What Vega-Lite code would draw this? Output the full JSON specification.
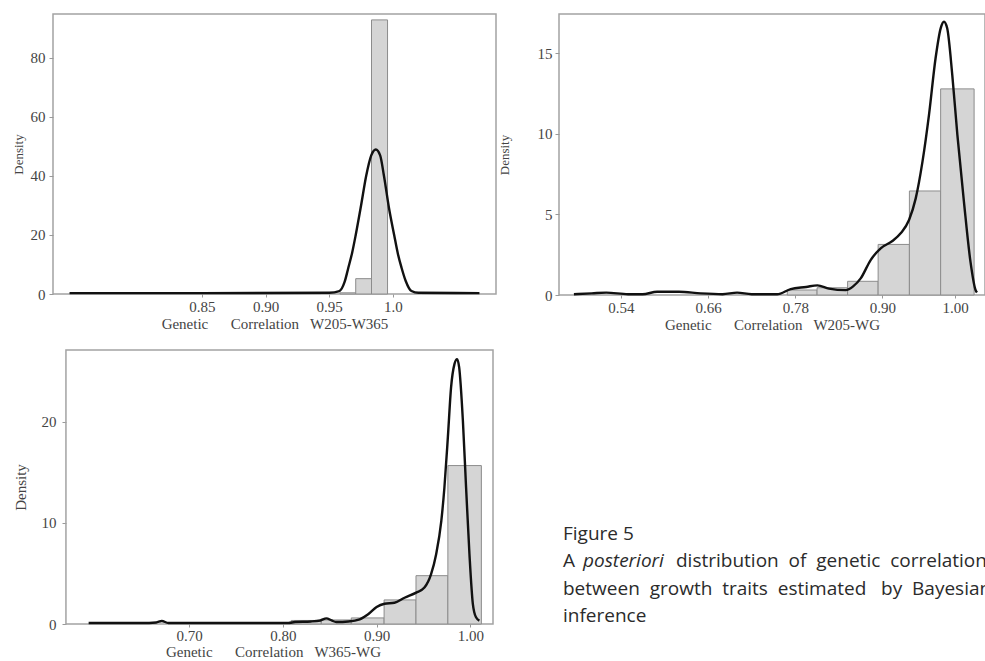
{
  "$schema": "https://vega.github.io/schema/vega-lite/v6.json",
  "padding": {"left": 11, "top": 13, "right": 0, "bottom": 0},
  "background": "white",
  "columns": 2,
  "align": "none",
  "bounds": "full",
  "spacing": {"row": 16, "column": 0},
  "config": {
    "font": "Liberation Serif",
    "view": {"stroke": "#a3a3a3", "strokeWidth": 1.5},
    "axis": {
      "domain": false, "grid": false, "tickColor": "#999999", "tickSize": 4,
      "labelFont": "Liberation Serif", "labelFontSize": 15, "labelColor": "#444444",
      "titleFont": "Liberation Serif", "titleFontWeight": "normal", "titleColor": "#444444"
    }
  },
  "datasets": {
    "h1": [
      {"x0": 0.9585, "x1": 0.9708, "d": 0.4},
      {"x0": 0.9708, "x1": 0.9832, "d": 5.2},
      {"x0": 0.9832, "x1": 0.9958, "d": 92.9}
    ],
    "c1": [
      {"r": 0.746, "d": 0.3}, {"r": 0.85, "d": 0.3}, {"r": 0.95, "d": 0.4}, {"r": 0.958, "d": 1.0},
      {"r": 0.962, "d": 4.0}, {"r": 0.965, "d": 8.9}, {"r": 0.968, "d": 14.0}, {"r": 0.9708, "d": 20.0},
      {"r": 0.975, "d": 30.0}, {"r": 0.979, "d": 40.0}, {"r": 0.983, "d": 47.0}, {"r": 0.9866, "d": 49.0},
      {"r": 0.990, "d": 47.0}, {"r": 0.993, "d": 40.0}, {"r": 0.997, "d": 29.0}, {"r": 1.001, "d": 20.0},
      {"r": 1.004, "d": 13.5}, {"r": 1.0068, "d": 8.9}, {"r": 1.010, "d": 4.5}, {"r": 1.0146, "d": 1.0},
      {"r": 1.02, "d": 0.4}, {"r": 1.068, "d": 0.3}
    ],
    "h2": [
      {"x0": 0.769, "x1": 0.810, "d": 0.31},
      {"x0": 0.810, "x1": 0.852, "d": 0.45},
      {"x0": 0.852, "x1": 0.894, "d": 0.85},
      {"x0": 0.894, "x1": 0.937, "d": 3.14},
      {"x0": 0.937, "x1": 0.980, "d": 6.46},
      {"x0": 0.980, "x1": 1.026, "d": 12.8}
    ],
    "c2": [
      {"r": 0.4755, "d": 0.05}, {"r": 0.50, "d": 0.1}, {"r": 0.52, "d": 0.15}, {"r": 0.55, "d": 0.05},
      {"r": 0.57, "d": 0.05}, {"r": 0.59, "d": 0.2}, {"r": 0.62, "d": 0.2}, {"r": 0.65, "d": 0.1},
      {"r": 0.68, "d": 0.05}, {"r": 0.70, "d": 0.15}, {"r": 0.72, "d": 0.05}, {"r": 0.755, "d": 0.05},
      {"r": 0.7737, "d": 0.37}, {"r": 0.795, "d": 0.5}, {"r": 0.8104, "d": 0.6}, {"r": 0.8264, "d": 0.4},
      {"r": 0.8494, "d": 0.3}, {"r": 0.860, "d": 0.55}, {"r": 0.870, "d": 1.03}, {"r": 0.8837, "d": 2.17},
      {"r": 0.8975, "d": 2.9}, {"r": 0.9136, "d": 3.35}, {"r": 0.925, "d": 3.83}, {"r": 0.9365, "d": 4.66},
      {"r": 0.9457, "d": 6.0}, {"r": 0.955, "d": 8.28}, {"r": 0.964, "d": 11.2}, {"r": 0.973, "d": 14.7},
      {"r": 0.980, "d": 16.56}, {"r": 0.9846, "d": 16.97}, {"r": 0.989, "d": 16.56}, {"r": 0.996, "d": 13.66},
      {"r": 1.003, "d": 9.94}, {"r": 1.012, "d": 5.8}, {"r": 1.021, "d": 2.07}, {"r": 1.028, "d": 0.31},
      {"r": 1.030, "d": 0.15}
    ],
    "h3": [
      {"x0": 0.809, "x1": 0.841, "d": 0.35},
      {"x0": 0.841, "x1": 0.873, "d": 0.4},
      {"x0": 0.873, "x1": 0.908, "d": 0.6},
      {"x0": 0.908, "x1": 0.942, "d": 2.38},
      {"x0": 0.942, "x1": 0.976, "d": 4.78},
      {"x0": 0.976, "x1": 1.0117, "d": 15.67}
    ],
    "c3": [
      {"r": 0.593, "d": 0.1}, {"r": 0.62, "d": 0.1}, {"r": 0.65, "d": 0.1}, {"r": 0.665, "d": 0.15},
      {"r": 0.671, "d": 0.3}, {"r": 0.678, "d": 0.1}, {"r": 0.72, "d": 0.1}, {"r": 0.76, "d": 0.1},
      {"r": 0.806, "d": 0.1}, {"r": 0.813, "d": 0.2}, {"r": 0.83, "d": 0.25}, {"r": 0.84, "d": 0.35},
      {"r": 0.8465, "d": 0.56}, {"r": 0.852, "d": 0.35}, {"r": 0.857, "d": 0.2}, {"r": 0.87, "d": 0.25},
      {"r": 0.882, "d": 0.46}, {"r": 0.891, "d": 0.96}, {"r": 0.90, "d": 1.68}, {"r": 0.9085, "d": 2.0},
      {"r": 0.919, "d": 2.1}, {"r": 0.9298, "d": 2.6}, {"r": 0.9422, "d": 3.1}, {"r": 0.951, "d": 3.6},
      {"r": 0.958, "d": 4.9}, {"r": 0.9635, "d": 6.9}, {"r": 0.969, "d": 10.2}, {"r": 0.9723, "d": 13.5},
      {"r": 0.976, "d": 18.5}, {"r": 0.9794, "d": 23.4}, {"r": 0.983, "d": 25.7}, {"r": 0.9858, "d": 26.2},
      {"r": 0.988, "d": 25.4}, {"r": 0.992, "d": 20.1}, {"r": 0.9954, "d": 13.5}, {"r": 0.999, "d": 6.9},
      {"r": 1.0026, "d": 2.0}, {"r": 1.006, "d": 0.66}, {"r": 1.0096, "d": 0.33}
    ],
    "frame3": [
      {"xa": 0.5688, "xb": 1.0241, "ya": 0, "yb": 27.1}
    ],
    "cap": [
      {"line": 1, "col": 66, "text": "Figure 5", "style": "normal"},
      {"line": 2, "col": 66, "text": "A", "style": "normal"},
      {"line": 2, "col": 86, "text": "posteriori", "style": "italic"},
      {"line": 2, "col": 179, "text": "distribution\u00a0 of\u00a0 genetic\u00a0 correlations", "style": "normal"},
      {"line": 3, "col": 66, "text": "between\u00a0 growth\u00a0 traits\u00a0 estimated\u00a0\u00a0 by\u00a0 Bayesian", "style": "normal"},
      {"line": 4, "col": 66, "text": "inference", "style": "normal"}
    ]
  },
  "concat": [
    {
      "width": 443, "height": 280,
      "layer": [
        {
          "data": {"name": "h1"},
          "mark": {"type": "rect", "fill": "#d5d5d5", "stroke": "#8c8c8c", "strokeWidth": 1},
          "encoding": {
            "x": {"field": "x0", "type": "quantitative", "scale": {"domain": [0.733, 1.081], "nice": false, "zero": false},
                  "axis": {"values": [0.85, 0.9, 0.95, 1.0], "labelExpr": "datum.value >= 0.999 ? '1.0' : format(datum.value, '.2f')", "tickSize": 3, "labelPadding": 2, "titlePadding": 2, "titleFontSize": 15,
                           "title": "Genetic\u00a0\u00a0\u00a0\u00a0\u00a0 Correlation\u00a0\u00a0 W205-W365"}},
            "x2": {"field": "x1"},
            "y": {"field": "d", "type": "quantitative", "scale": {"domain": [0, 94.9], "nice": false},
                  "axis": {"values": [0, 20, 40, 60, 80], "title": "Density", "titleFontSize": 13, "titlePadding": 5, "labelPadding": 4}},
            "y2": {"datum": 0}
          }
        },
        {
          "data": {"name": "c1"},
          "mark": {"type": "line", "color": "#111111", "strokeWidth": 2.4, "interpolate": "monotone"},
          "encoding": {
            "x": {"field": "r", "type": "quantitative"},
            "y": {"field": "d", "type": "quantitative"}
          }
        }
      ]
    },
    {
      "width": 426, "height": 281,
      "layer": [
        {
          "data": {"name": "h2"},
          "mark": {"type": "rect", "fill": "#d5d5d5", "stroke": "#8c8c8c", "strokeWidth": 1},
          "encoding": {
            "x": {"field": "x0", "type": "quantitative", "scale": {"domain": [0.455, 1.041], "nice": false, "zero": false},
                  "axis": {"values": [0.54, 0.66, 0.78, 0.9, 1.0], "format": ".2f", "tickSize": 3, "labelPadding": 2, "titlePadding": 2, "titleFontSize": 15,
                           "title": "Genetic\u00a0\u00a0\u00a0\u00a0\u00a0 Correlation\u00a0\u00a0 W205-WG"}},
            "x2": {"field": "x1"},
            "y": {"field": "d", "type": "quantitative", "scale": {"domain": [0, 17.45], "nice": false},
                  "axis": {"values": [0, 5, 10, 15], "title": "Density", "titleFontSize": 13, "titlePadding": 26, "labelPadding": 3}},
            "y2": {"datum": 0}
          }
        },
        {
          "data": {"name": "c2"},
          "mark": {"type": "line", "color": "#111111", "strokeWidth": 2.4, "interpolate": "monotone"},
          "encoding": {
            "x": {"field": "r", "type": "quantitative"},
            "y": {"field": "d", "type": "quantitative"}
          }
        }
      ]
    },
    {
      "width": 440, "height": 274,
      "view": {"stroke": null},
      "layer": [
        {
          "data": {"name": "frame3"},
          "mark": {"type": "rect", "fill": "white", "fillOpacity": 0, "stroke": "#a3a3a3", "strokeWidth": 1.5},
          "encoding": {
            "x": {"field": "xa", "type": "quantitative", "scale": {"domain": [0.555, 1.0241], "nice": false, "zero": false},
                  "axis": {"values": [0.7, 0.8, 0.9, 1.0], "format": ".2f", "tickSize": 3, "labelPadding": 1, "titlePadding": 1, "titleFontSize": 15,
                           "title": "Genetic\u00a0\u00a0\u00a0\u00a0\u00a0 Correlation\u00a0\u00a0 W365-WG"}},
            "x2": {"field": "xb"},
            "y": {"field": "ya", "type": "quantitative", "scale": {"domain": [0, 27.1], "nice": false},
                  "axis": {"values": [0, 10, 20], "offset": -13, "title": "Density", "titleFontSize": 15, "titlePadding": 13, "labelPadding": 6}},
            "y2": {"field": "yb"}
          }
        },
        {
          "data": {"name": "h3"},
          "mark": {"type": "rect", "fill": "#d5d5d5", "stroke": "#8c8c8c", "strokeWidth": 1},
          "encoding": {
            "x": {"field": "x0", "type": "quantitative"},
            "x2": {"field": "x1"},
            "y": {"field": "d", "type": "quantitative"},
            "y2": {"datum": 0}
          }
        },
        {
          "data": {"name": "c3"},
          "mark": {"type": "line", "color": "#111111", "strokeWidth": 2.4, "interpolate": "monotone"},
          "encoding": {
            "x": {"field": "r", "type": "quantitative"},
            "y": {"field": "d", "type": "quantitative"}
          }
        }
      ]
    },
    {
      "width": 489, "height": 274,
      "view": {"stroke": null},
      "data": {"name": "cap"},
      "encoding": {
        "x": {"field": "col", "type": "quantitative", "scale": {"domain": [0, 489], "nice": false, "zero": false}, "axis": null},
        "y": {"field": "line", "type": "quantitative", "scale": {"domain": [-5.927, 4.036], "nice": false, "zero": false, "reverse": true}, "axis": null},
        "text": {"field": "text"}
      },
      "layer": [
        {
          "transform": [{"filter": "datum.style === 'normal'"}],
          "mark": {"type": "text", "align": "left", "baseline": "alphabetic", "font": "Open Sans", "fontSize": 19, "color": "#2b2b2b", "clip": true}
        },
        {
          "transform": [{"filter": "datum.style === 'italic'"}],
          "mark": {"type": "text", "align": "left", "baseline": "alphabetic", "font": "Open Sans", "fontSize": 19, "fontStyle": "italic", "color": "#2b2b2b", "clip": true}
        }
      ]
    }
  ]
}
